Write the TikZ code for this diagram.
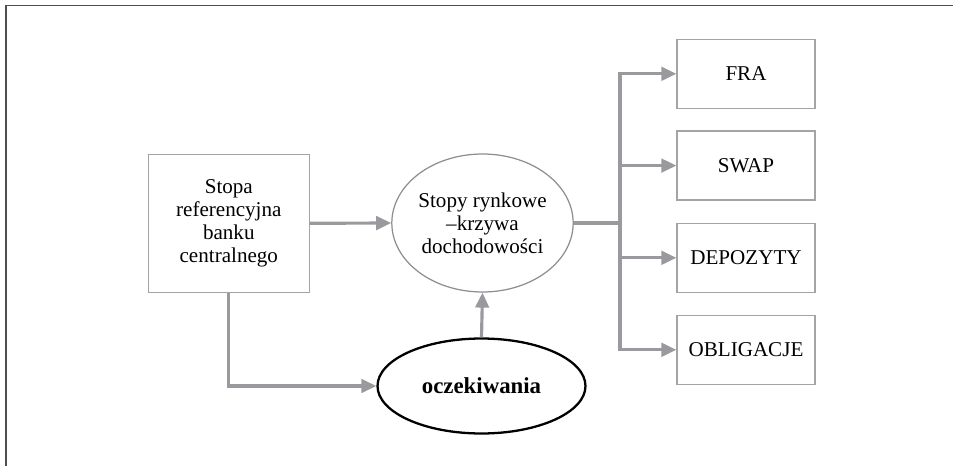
\documentclass[tikz,border=0pt]{standalone}
\usepackage{fontspec}
\setmainfont{Liberation Serif}
\usepackage{tikz}
\usetikzlibrary{shapes, shapes.geometric, arrows.meta, positioning, calc}
\usepackage{xcolor}
\definecolor{arrowgrey}{HTML}{9A9A9E}
\definecolor{boxgrey}{HTML}{A4A4A6}
\definecolor{ellgrey}{HTML}{8E8E90}
\definecolor{framegrey}{HTML}{4E4E50}
\tikzset{
  instbox/.style={rectangle, draw=boxgrey, line width=0.7pt,
                  minimum width=2.76cm, minimum height=1.38cm, inner sep=0,
                  align=center, font=\fontsize{12}{13}\selectfont},
  bankbox/.style={rectangle, draw=boxgrey, line width=0.7pt,
                  minimum width=3.22cm, minimum height=2.76cm, inner sep=0,
                  align=center, font=\fontsize{12}{13}\selectfont},
  rateell/.style={ellipse, draw=ellgrey, line width=0.7pt,
                  minimum width=3.24cm, minimum height=2.76cm, inner sep=0,
                  align=center, font=\fontsize{12}{13}\selectfont},
  expell/.style={ellipse, draw=black, line width=1.3pt,
                 minimum width=4.16cm, minimum height=1.9cm, inner sep=0,
                 align=center, font=\fontsize{13}{14}\selectfont\bfseries},
  link/.style={-{Triangle[length=0.3cm,width=0.27cm]}, line width=1.8pt,
               draw=arrowgrey},
  plainlink/.style={line width=1.8pt, draw=arrowgrey},
}
\begin{document}
\begin{tikzpicture}[x=0.02cm, y=-0.02cm]
  \useasboundingbox (0,0) rectangle (953,466);

  % --- frame ---
  \draw[framegrey, line width=1.1pt] (6,466) -- (6,5.5) -- (953,5.5);

  % --- main nodes ---
  \node[bankbox] (bank) at (228.8, 223.3) {Stopa\\referencyjna\\banku\\centralnego};
  \node[rateell] (curve) at (482.5, 223) {Stopy rynkowe\\--krzywa\hspace*{0.5cm}\\dochodowości};
  \node[expell]  (expect) at (481.5, 386) {oczekiwania};

  % --- instruments ---
  \node[instbox] (fra)  at (746, 73.8)  {FRA};
  \node[instbox] (swap) at (746, 165.6) {SWAP};
  \node[instbox] (depo) at (746, 257.8) {DEPOZYTY};
  \node[instbox] (bond) at (746, 349.8) {OBLIGACJE};

  % --- arrows ---
  \draw[link] (bank.east) -- (curve.west);
  \draw[link] (bank.south) |- (expect.west);
  \draw[link] (expect.north) -- (curve.south);

  \coordinate (split) at (620, 223);
  \draw[plainlink] (curve.east) -- (split);
  \draw[link] (split) |- (fra.west);
  \draw[link] (split) |- (swap.west);
  \draw[link] (split) |- (depo.west);
  \draw[link] (split) |- (bond.west);
\end{tikzpicture}
\end{document}
